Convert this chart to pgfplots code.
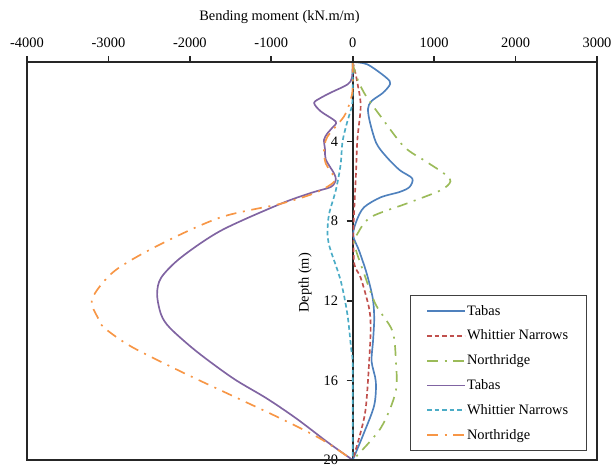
\documentclass[border=0pt]{standalone}
\usepackage{pgfplots}
\pgfplotsset{compat=1.18}
\usepackage{fontspec}
\setmainfont{Liberation Serif}

\definecolor{cTabA}{HTML}{4F81BD}
\definecolor{cWhiA}{HTML}{C0504D}
\definecolor{cNorA}{HTML}{9BBB59}
\definecolor{cTabB}{HTML}{8064A2}
\definecolor{cWhiB}{HTML}{4BACC6}
\definecolor{cNorB}{HTML}{F79646}
\definecolor{axgray}{HTML}{262626}

\newcommand{\chartfont}{\fontsize{10.8bp}{13bp}\selectfont}

\tikzset{
  solidline/.style={draw=#1, line width=1.25bp, solid},
  dashline/.style={draw=#1, line width=1.25bp, dash pattern=on 3.4bp off 2.2bp},
  dashdotline/.style={draw=#1, line width=1.25bp, dash pattern=on 8bp off 5bp on 1.5bp off 5bp},
}

\begin{document}
\begin{tikzpicture}
\begin{axis}[
  scale only axis,
  width=427.5bp, height=298.5bp,
  xmin=-4000, xmax=3000, ymin=0, ymax=20,
  y dir=reverse,
  axis x line=top, axis y line=middle,
  axis line style={-, line width=1.6bp, color=axgray},
  xtick={-4000,-3000,-2000,-1000,0,1000,2000,3000},
  xticklabels={-4000,-3000,-2000,-1000,0,1000,2000,3000},
  ytick={0,4,8,12,16,20},
  yticklabels={0,4,8,12,16,20},
  tick align=outside,
  major tick length=4.5bp,
  tick style={color=axgray, line width=1.2bp},
  tick label style={font=\chartfont},
  xticklabel style={yshift=3bp},
  yticklabel style={anchor=east, xshift=-3bp},
  every axis x label/.style={at={(axis description cs:0.443,1)}, yshift=33.75bp, anchor=center, font=\chartfont},
  every axis y label/.style={at={(axis description cs:0.488,0.445)}, rotate=90, anchor=center, font=\chartfont},
  xlabel={Bending moment (kN.m/m)},
  ylabel={Depth (m)},
  clip=false,
  legend cell align=left,
  legend image code/.code={\draw[#1] (0bp,0bp) -- (28bp,0bp);},
  legend style={at={(0.982,0.023)}, anchor=south east, font=\chartfont,
    draw=black!75, line width=0.8bp, inner xsep=12.3bp, inner ysep=5bp,
    row sep=5.6bp, nodes={inner xsep=1.2bp}},
]
% positive envelope
\addplot[solidline=cTabA, smooth] coordinates {
 (0,0) (180,0.12) (413,0.79) (460,1.1) (371,1.55) (229,1.97) (188,2.35) (210,3.0)
 (290,4.08) (413,4.76) (576,5.43) (731,5.85) (698,6.28) (576,6.53) (343,6.8)
 (139,7.3) (49,7.96) (5,8.7) (78,9.48) (170,10.6) (245,11.85) (264,12.86)
 (250,14.0) (232,15.05) (284,16.07) (264,17.25) (142,18.6) (0,20)};
\addlegendentry{Tabas}
\addplot[dashline=cWhiA, smooth] coordinates {
 (0,0) (30,0.5) (57,1.04) (98,2.2) (57,3.9) (40,5.6) (20,7.3) (8,8.6)
 (20,10.16) (98,10.84) (200,12.35) (220,13.37) (200,15.2) (160,17.4) (98,18.6) (0,20)};
\addlegendentry{Whittier Narrows}
\addplot[dashdotline=cNorA, smooth] coordinates {
 (0,0) (20,0.4) (77,1.04) (165,1.72) (343,2.73) (629,4.25) (900,5.0) (1120,5.6)
 (1200,6.0) (1078,6.45) (670,7.1) (220,7.8) (57,8.64) (20,9.15) (142,10.66)
 (284,12.2) (486,13.5) (530,15.0) (527,16.58) (343,18.4) (0,20)};
\addlegendentry{Northridge}
% negative envelope
\addplot[solidline=cTabB, smooth] coordinates {
 (0,0) (-10,0.8) (-65,1.13) (-250,1.5) (-392,1.8) (-474,2.06) (-392,2.48)
 (-208,3.0) (-250,3.3) (-310,3.58) (-352,3.9) (-340,4.4) (-331,4.9) (-229,5.6)
 (-208,5.94) (-270,6.28) (-490,6.55) (-882,7.12) (-1617,8.47) (-2108,9.82)
 (-2353,10.84) (-2402,11.68) (-2353,12.69) (-2243,13.37) (-1916,14.55)
 (-1467,15.9) (-1058,16.9) (-690,17.92) (-310,19.1) (0,20)};
\addlegendentry{Tabas}
\addplot[dashline=cWhiB, smooth] coordinates {
 (0,0) (0,1.5) (-10,2.2) (-70,3.05) (-125,4.0) (-150,5.2) (-208,6.45)
 (-290,7.63) (-310,8.5) (-300,9.0) (-270,9.48) (-147,11.0) (-65,12.69)
 (-20,14.38) (0,15.3) (0,20)};
\addlegendentry{Whittier Narrows}
\addplot[dashdotline=cNorB, smooth] coordinates {
 (0,0) (0,1.3) (-25,1.9) (-106,2.73) (-310,3.75) (-352,4.42) (-331,5.1)
 (-229,5.77) (-250,6.1) (-474,6.6) (-882,7.12) (-1617,7.8) (-2353,9.14)
 (-2925,10.5) (-3200,11.9) (-3129,12.86) (-3047,13.37) (-2720,14.3)
 (-2108,15.56) (-1495,16.74) (-882,17.92) (-392,18.94) (0,20)};
\addlegendentry{Northridge}
% plot area frame
\draw[line width=1.5bp, color=axgray] (axis description cs:0,0) rectangle (axis description cs:1,1);
\coordinate (bbsw) at (axis description cs:0,0);
\coordinate (bbne) at (axis description cs:1,1);
\end{axis}
\pgfresetboundingbox
\path ([xshift=-20.25bp,yshift=-3bp]bbsw) rectangle ([xshift=11.25bp,yshift=46.5bp]bbne);
\end{tikzpicture}
\end{document}
